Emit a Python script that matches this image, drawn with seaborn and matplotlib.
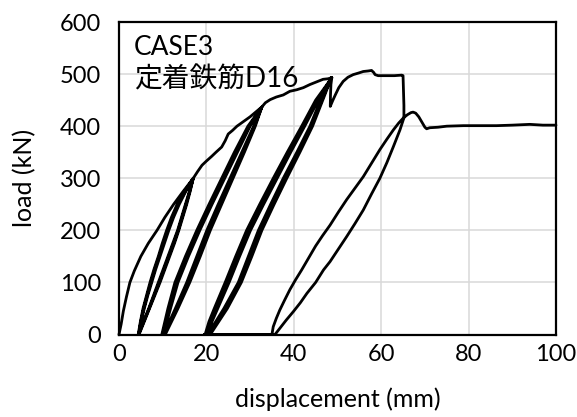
import numpy as np
import pandas as pd
import matplotlib
matplotlib.use("Agg")
import matplotlib.pyplot as plt
import seaborn as sns

# ---------------- data ----------------
# first loading envelope
env1_disp = [0, 0.5, 1.0, 1.7, 2.5, 3.5, 5.0, 6.7, 8.7, 10.5, 12.5, 14.7, 17.0]
env1_load = [0, 20, 45, 72, 100, 122, 150, 175, 200, 225, 250, 275, 300]

# stage 1 cycles (peak ~17 mm)
l1_unload_load = [300, 275, 250, 225, 200, 175, 150, 125, 100, 75, 50, 25, 0]
l1_unload_a = [17.0, 16.1, 15.2, 14.3, 13.4, 12.3, 11.2, 10.1, 9.0, 7.9, 6.8, 5.6, 4.4]
l1_unload_b = [17.0, 16.3, 15.5, 14.6, 13.7, 12.7, 11.6, 10.5, 9.4, 8.2, 7.0, 5.8, 4.6]
l1_unload_c = [17.0, 16.2, 15.35, 14.45, 13.55, 12.5, 11.4, 10.3, 9.2, 8.05, 6.9, 5.7, 4.5]
l1_reload_load = [0, 25, 50, 75, 100, 125, 150, 175, 200, 225, 250, 275, 300]
l1_reload_a = [4.4, 4.9, 5.5, 6.3, 7.1, 8.0, 9.0, 9.9, 10.9, 12.0, 13.3, 15.0, 17.0]
l1_reload_b = [4.6, 5.1, 5.8, 6.6, 7.5, 8.4, 9.4, 10.4, 11.4, 12.5, 13.8, 15.3, 17.0]
l1_reload_c = [4.5, 5.0, 5.65, 6.45, 7.3, 8.2, 9.2, 10.15, 11.15, 12.25, 13.55, 15.15, 17.0]

# envelope to stage 2 peak
env2_disp = [17.0, 18.0, 19.0, 20.0, 21.2, 22.2, 23.5, 24.3, 25.0, 26.0, 27.0, 28.0, 29.0, 30.0, 31.0, 32.0, 32.7]
env2_load = [300, 313, 325, 333, 342, 350, 360, 372, 385, 392, 400, 406, 412, 418, 425, 432, 437]

# stage 2 cycles (peak ~33 mm)
l2_unload_load = [437, 400, 350, 300, 250, 200, 150, 100, 50, 0]
l2_unload_a = [32.7, 30.8, 28.1, 25.4, 22.7, 20.1, 17.8, 15.5, 12.9, 10.2]
l2_unload_b = [32.7, 31.0, 28.4, 25.8, 23.1, 20.5, 18.2, 15.9, 13.2, 10.4]
l2_unload_c = [32.7, 31.2, 28.7, 26.1, 23.5, 20.9, 18.6, 16.2, 13.5, 10.6]
l2_reload_load = [0, 50, 100, 150, 200, 250, 300, 350, 400, 437]
l2_reload_a = [9.8, 11.2, 12.8, 15.2, 17.8, 20.6, 23.5, 26.4, 29.5, 32.7]
l2_reload_b = [10.0, 11.5, 13.2, 15.6, 18.2, 21.0, 23.9, 26.8, 29.8, 32.7]
l2_reload_c = [10.2, 11.8, 13.5, 15.9, 18.5, 21.3, 24.2, 27.1, 30.0, 32.7]

# envelope to stage 3 peak
env3_disp = [32.7, 33.5, 34.6, 36.0, 37.6, 39.1, 40.7, 42.2, 43.7, 45.2, 46.7, 47.8, 48.7]
env3_load = [437, 445, 451, 456, 460, 467, 470, 474, 480, 485, 490, 491, 493]

# stage 3 cycles (peak ~49 mm)
l3_unload_load = [493, 460, 400, 350, 300, 250, 200, 150, 100, 50, 0]
l3_unload_a = [48.5, 46.6, 43.7, 40.7, 37.6, 34.7, 31.9, 29.6, 27.3, 24.0, 20.3]
l3_unload_b = [48.6, 46.9, 44.0, 41.0, 38.0, 35.1, 32.3, 30.0, 27.7, 24.4, 20.6]
l3_unload_c = [48.6, 47.1, 44.3, 41.4, 38.4, 35.5, 32.7, 30.4, 28.0, 24.8, 20.9]
l3_reload_load = [0, 25, 50, 100, 150, 200, 250, 300, 350, 400, 450, 493]
l3_reload_a = [19.7, 20.6, 21.8, 24.3, 26.7, 29.2, 32.2, 35.3, 38.5, 41.8, 45.0, 48.7]
l3_reload_b = [20.0, 21.0, 22.2, 24.8, 27.2, 29.7, 32.7, 35.8, 38.9, 42.2, 45.4, 48.7]
l3_reload_c = [20.3, 21.3, 22.6, 25.2, 27.6, 30.1, 33.1, 36.2, 39.3, 42.5, 45.6, 48.7]

# post-peak up to the sudden drop at ~65 mm
post_disp = [48.7, 48.5, 48.4, 48.35, 48.5, 48.9, 49.5, 50.3, 51.3, 52.4, 53.6, 54.8, 55.9, 57.0, 57.8,
             58.3, 58.6, 59.3, 61.0, 63.0, 64.7, 65.0, 65.1, 65.2, 65.2]
post_load = [493, 480, 460, 438, 441, 449, 460, 474, 486, 494, 499, 502, 505, 506, 507,
             503, 499, 497, 497, 497, 498, 497, 470, 440, 416]

# final unloading
fu_disp = [65.2, 64.3, 62.8, 61.3, 59.7, 57.8, 55.9, 54.0, 52.1, 50.2, 48.3, 46.8, 45.0, 43.0,
           41.5, 39.9, 38.3, 36.8, 35.7]
fu_load = [416, 393, 361, 330, 300, 270, 239, 213, 188, 164, 140, 124, 100, 79, 61, 44, 28, 12, 0]

# zero-load travel
zero_disp = [35.7, 19.5, 35.0]
zero_load = [0, 0, 0]

# final reloading and residual plateau
fr_disp = [35.0, 35.3, 36.0, 36.8, 37.9, 39.1, 40.4, 41.8, 43.4, 45.0, 46.6, 48.3, 50.2, 52.1, 54.0,
           55.9, 57.8, 59.7, 61.3, 62.8, 64.0, 65.1, 66.0, 66.8, 67.3, 67.9, 68.6, 69.3, 70.0, 70.4,
           71.1, 73.0, 75.0, 78.8, 82.0, 86.4, 90.0, 94.0, 97.0, 100.0]
fr_load = [0, 15, 31, 47, 66, 86, 105, 124, 147, 170, 190, 210, 235, 259, 281,
           303, 329, 355, 375, 393, 406, 416, 422, 426, 427, 425, 418, 408, 398, 395,
           397, 398, 400, 401, 401, 401, 402, 403.5, 402, 402]

x_ticks = [0, 20, 40, 60, 80, 100]
y_ticks = [0, 100, 200, 300, 400, 500, 600]

# ---------------- assemble the continuous path ----------------
segments = [
    (env1_disp, env1_load),
    (l1_unload_a, l1_unload_load), (l1_reload_a, l1_reload_load),
    (l1_unload_b, l1_unload_load), (l1_reload_b, l1_reload_load),
    (l1_unload_c, l1_unload_load), (l1_reload_c, l1_reload_load),
    (env2_disp, env2_load),
    (l2_unload_a, l2_unload_load), (l2_reload_a, l2_reload_load),
    (l2_unload_b, l2_unload_load), (l2_reload_b, l2_reload_load),
    (l2_unload_c, l2_unload_load), (l2_reload_c, l2_reload_load),
    (env3_disp, env3_load),
    (l3_unload_a, l3_unload_load), (l3_reload_a, l3_reload_load),
    (l3_unload_b, l3_unload_load), (l3_reload_b, l3_reload_load),
    (l3_unload_c, l3_unload_load), (l3_reload_c, l3_reload_load),
    (post_disp, post_load),
    (fu_disp, fu_load),
    (zero_disp, zero_load),
    (fr_disp, fr_load),
]
disp = np.concatenate([np.asarray(s[0], float) for s in segments])
load = np.concatenate([np.asarray(s[1], float) for s in segments])
df = pd.DataFrame({"displacement": disp, "load": load})

# ---------------- plot ----------------
sns.set_theme(style="white")
plt.rcParams["font.family"] = ["Lato", "Noto Sans CJK JP", "DejaVu Sans"]

fig = plt.figure(figsize=(5.77, 4.17), dpi=100)
ax = fig.add_axes([0.2062, 0.1978, 0.7574, 0.7494])

sns.lineplot(data=df, x="displacement", y="load", sort=False, estimator=None,
             color="black", linewidth=2.0, ax=ax, clip_on=False)
for ln in ax.get_lines():
    ln.set_solid_joinstyle("round")
    ln.set_solid_capstyle("round")

ax.set_xlim(0, 100)
ax.set_ylim(0, 600)
ax.set_xticks(x_ticks)
ax.set_yticks(y_ticks)
ax.grid(True, color="#d9d9d9", linewidth=1.1)
ax.set_axisbelow(True)
for sp in ax.spines.values():
    sp.set_color("black")
    sp.set_linewidth(1.6)
    sp.set_zorder(5)

ax.tick_params(axis="x", direction="in", length=6, width=1.4, colors="black",
               labelsize=17, pad=7)
ax.tick_params(axis="y", direction="out", length=7, width=1.4, colors="black",
               labelsize=17, pad=6)
ax.set_xlabel("displacement (mm)", fontsize=18, color="black", labelpad=16)
ax.set_ylabel("load (kN)", fontsize=18, color="black", labelpad=17)

ax.text(0.034, 0.92, "CASE3", transform=ax.transAxes, fontsize=19,
        va="center", ha="left", color="black")
ax.text(0.034, 0.815, "定着鉄筋D16", transform=ax.transAxes, fontsize=20,
        va="center", ha="left", color="black")

fig.savefig("out.png", dpi=100)
